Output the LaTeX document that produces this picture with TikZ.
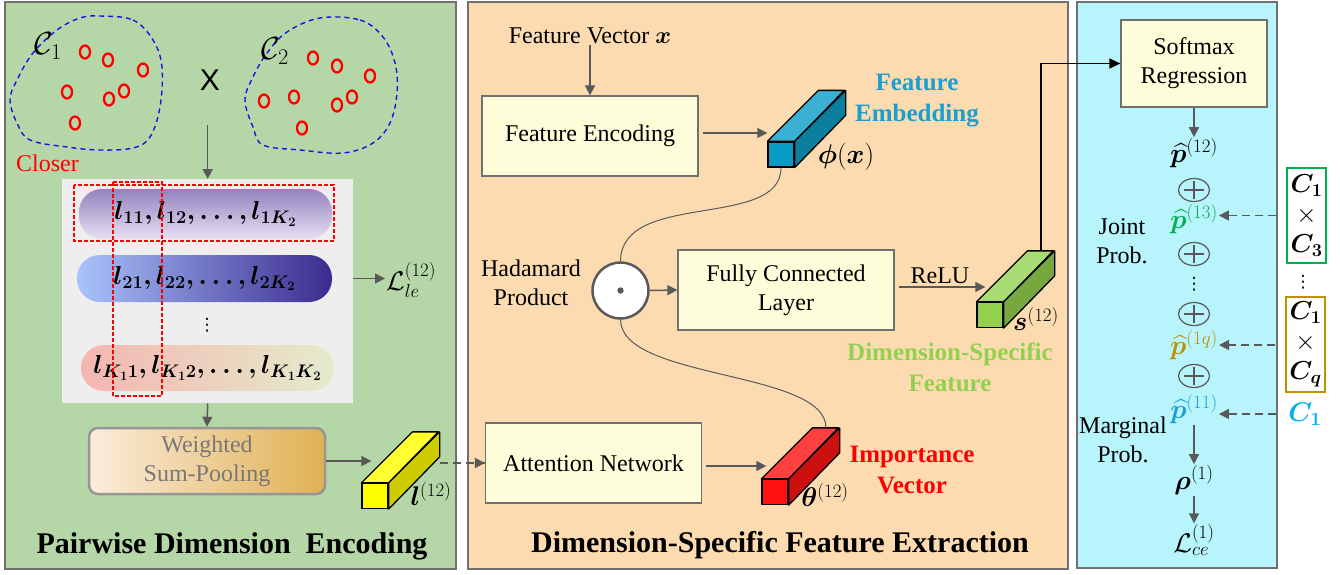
\RequirePackage{fix-cm}
\documentclass[tikz,border=0pt]{standalone}
\usepackage{amsmath}
\usepackage{bm}
\usepackage{fontspec}
\setmainfont{Liberation Serif}
\newfontfamily\sansf{Liberation Sans}
\newfontfamily\dejavu{DejaVu Sans}
\usetikzlibrary{arrows.meta,shapes.geometric,calc}
\definecolor{pg}{RGB}{181,215,168}
\definecolor{pp}{RGB}{253,219,176}
\definecolor{pc}{RGB}{184,244,252}
\definecolor{bx}{RGB}{253,253,217}
\definecolor{ag}{RGB}{89,89,89}
\definecolor{pb}{RGB}{112,112,112}
\definecolor{febl}{RGB}{26,160,208}
\definecolor{dsg}{RGB}{146,208,80}
\definecolor{goldc}{RGB}{191,143,0}
\definecolor{pgreen}{RGB}{0,176,80}
\definecolor{cblue}{RGB}{0,176,240}
\definecolor{blobb}{RGB}{20,20,230}
\definecolor{ltg}{RGB}{238,238,238}
\newcommand{\mycube}[5]{%
  \node[draw=black,line width=1.3pt,fill=#3,minimum width=26pt,minimum height=25pt,inner sep=0pt] (#1) at #2 {};
  \draw[line width=1.3pt,fill=#4,line join=round] (#1.north west) -- ++(51,-51) -- ++(26,0) -- (#1.north east) -- cycle;
  \draw[line width=1.3pt,fill=#5,line join=round] (#1.north east) -- ++(51,-51) -- ++(0,25) -- (#1.south east) -- cycle;
  \path (#1.north) ++(51,-51) coordinate (#1-top);
  \path (#1.east) ++(51,-51) coordinate (#1-back);
}
\begin{document}
\begin{tikzpicture}[x=1pt,y=-1pt,
  every node/.style={font=\fontsize{24}{29}\selectfont, inner sep=1pt, align=center},
  mth/.style={font=\fontsize{27}{30}\selectfont},
  vd/.style={font=\dejavu\fontsize{17}{17}\selectfont, inner sep=0pt},
  box/.style={draw=pb, fill=bx, line width=1.2pt},
  arr/.style={draw=ag, line width=1.5pt, -{Triangle[length=10pt,width=10pt]}},
  darr/.style={arr, dash pattern=on 8pt off 5pt},
  blk/.style={draw=black, line width=1.5pt, -{Triangle[length=11pt,width=10pt]}},
  pill/.style={rounded corners=23pt, minimum width=253pt, minimum height=47pt, font=\fontsize{26}{30}\selectfont},
  boldlbl/.style={font=\fontsize{25}{31}\selectfont\bfseries},
  ttl/.style={font=\fontsize{30}{34}\selectfont\bfseries},
  dot/.style={draw=red, line width=2.3pt},
  plusn/.style={ellipse, draw=ag, line width=1.2pt, minimum width=31pt, minimum height=23pt, inner sep=0pt}
]
\useasboundingbox (0,0) rectangle (1340,574);
% panels
\draw[pb, fill=pg, line width=1.5pt] (5,2) rectangle (456,569);
\draw[pb, fill=pp, line width=1.5pt] (468,2) rectangle (1068,569);
\draw[pb, fill=pc, line width=1.5pt] (1077,2) rectangle (1277,568);

%%%%% LEFT PANEL
\draw[blobb, line width=1.4pt, dash pattern=on 5pt off 4pt] plot[smooth cycle, tension=0.6] coordinates
 {(100,16) (133,20) (153,40) (162,67) (160,107) (150,137) (133,148) (100,150) (67,147) (30,140) (17,123) (10,100) (17,80) (33,53) (57,30) (80,18)};
\draw[blobb, line width=1.4pt, dash pattern=on 5pt off 4pt] plot[smooth cycle, tension=0.6] coordinates
 {(320,18) (360,20) (383,37) (395,63) (397,93) (390,123) (373,143) (343,153) (300,150) (263,145) (253,127) (245,100) (253,77) (267,53) (287,32)};
\foreach \p in {(85,52),(108,60),(143,70),(67,92),(109,99),(124,91),(75,123),
                (313,58),(337,66),(370,76),(264,101),(294,97),(337,105),(352,97),(302,128)}
  \draw[dot] \p ellipse (5pt and 6.5pt);
\node[font=\fontsize{32}{34}\selectfont] (c1) at (48,46) {$\mathcal{C}_1$};
\node[font=\fontsize{32}{34}\selectfont] (c2) at (275,51) {$\mathcal{C}_2$};
\node[font=\sansf\fontsize{30}{30}\selectfont] (X) at (210,80) {X};
\node[red, anchor=west] (closer) at (15,163) {Closer};

\node[fill=ltg, minimum width=291pt, minimum height=224pt, inner sep=0pt, anchor=north west] (grey) at (62,179) {};
\draw[arr, shorten <=33pt] (X.south -| grey.north) -- (grey.north);

\node[pill, top color={rgb,255:red,146;green,130;blue,191}, bottom color={rgb,255:red,232;green,224;blue,242}, minimum height=50pt] (r1) at (205.5,214)
  {$\bm{l_{11}, l_{12}, \ldots, l_{1K_2}}$};
\node[pill, left color={rgb,255:red,169;green,195;blue,251}, right color={rgb,255:red,59;green,43;blue,143}, minimum width=255pt] (r2) at (204.5,278.5)
  {$\bm{l_{21}, l_{22}, \ldots, l_{2K_2}}$};
\node[vd] (vd1) at (207,325) {⋮};
\node[pill, left color={rgb,255:red,244;green,182;blue,177}, right color={rgb,255:red,228;green,235;blue,204}, minimum height=46pt] (r3) at (207.5,368)
  {$\bm{l_{K_1 1}, l_{K_1 2}, \ldots, l_{K_1 K_2}}$};
\draw[red, line width=1.5pt, dash pattern=on 4pt off 2pt] (74,185) rectangle (334,241);
\draw[red, line width=1.5pt, dash pattern=on 4pt off 2pt] (113,182) rectangle (162,396);

\node[mth, anchor=west] (Lle) at (385,280) {$\mathcal{L}_{le}^{(12)}$};
\draw[arr] (r2.east -| grey.east) -- (Lle.west |- r2.east);

\node[draw={rgb,255:red,150;green,150;blue,150}, line width=2.5pt, rounded corners=9pt,
      left color={rgb,255:red,251;green,236;blue,220}, right color={rgb,255:red,224;green,177;blue,82},
      minimum width=236pt, minimum height=66pt, text={rgb,255:red,120;green,120;blue,120}] (wsp) at (207,461) {Weighted\\Sum-Pooling};
\draw[arr] (grey.south) -- (wsp.north);

\mycube{lv}{(375,496)}{{rgb,255:red,255;green,255;blue,0}}{{rgb,255:red,255;green,255;blue,50}}{{rgb,255:red,204;green,204;blue,0}}
\node[mth] (llab) at (431,494) {$\bm{l}^{(12)}$};
\draw[arr] (wsp.east) -- ([xshift=10pt]wsp.east -| lv.west);

\node[ttl] (t1) at (232,546) {Pairwise Dimension\ \ Encoding};

%%%%% MIDDLE PANEL
\node (fv) at (590,36) {Feature Vector $\bm{x}$};
\node[box, minimum width=216pt, minimum height=80pt] (fe) at (590,136) {Feature Encoding};
\draw[arr] (fv) -- (fe);
\mycube{phi}{(781,154.5)}{{rgb,255:red,10;green,155;blue,196}}{{rgb,255:red,58;green,176;blue,211}}{{rgb,255:red,12;green,127;blue,160}}
\node[mth] (philab) at (846,157) {$\bm{\phi}(\bm{x})$};
\draw[arr, shorten <=4pt] ([yshift=3pt]fe.east) -- ([yshift=3pt]fe.east -| phi.west);
\node[boldlbl, text=febl] (femb) at (917,101) {Feature\\Embedding};

\node[circle, draw=ag, line width=2.5pt, fill=white, minimum size=56pt, inner sep=0pt] (had) at (620.5,290.5) {};
\fill[ag] (had) circle (3.2pt);
\node (hadlab) at (531,283) {Hadamard\\Product};
\draw[line width=1pt, ag] (phi.south) .. controls (781,230) and (621,190) .. (had.north);

\node[box, minimum width=216pt, minimum height=80pt] (fc) at (786,290) {Fully Connected\\Layer};
\draw[arr] (had.east) -- (fc.west);
\mycube{sv}{(990,315)}{{rgb,255:red,146;green,208;blue,80}}{{rgb,255:red,169;green,219;blue,116}}{{rgb,255:red,118;green,168;blue,61}}
\draw[arr, shorten <=4pt] ([yshift=3pt]fc.east) -- ([yshift=3pt,xshift=9pt]fc.east -| sv.west) node[midway, above=2pt] (relu) {ReLU};
\node[mth] (slab) at (1036,319) {$\bm{s}^{(12)}$};
\node[boldlbl, text=dsg] (dsf) at (950,367) {Dimension-Specific\\Feature};

\node[box, minimum width=216pt, minimum height=80pt] (att) at (593.5,463) {Attention Network};
\draw[darr, -] (att.west -| lv-back) -- (att.west);
\draw[arr] ([xshift=-8pt]att.west) -- (att.west);
\mycube{th}{(775,492)}{{rgb,255:red,255;green,16;blue,16}}{{rgb,255:red,255;green,64;blue,64}}{{rgb,255:red,204;green,16;blue,16}}
\draw[arr, shorten <=4pt] ([yshift=-3pt]att.east) -- ([yshift=-3pt,xshift=5pt]att.east -| th.west);
\node[mth] (thlab) at (825,495) {$\bm{\theta}^{(12)}$};
\node[boldlbl, text=red] (imp) at (912,470) {Importance\\Vector};
\draw[line width=1pt, ag] (had.south) .. controls (621,380) and (826,370) .. (th-top);

\node[ttl] (t2) at (780,545) {Dimension-Specific Feature Extraction};

%%%%% RIGHT PANEL
\node[box, minimum width=146pt, minimum height=87pt] (soft) at (1194,63.5) {Softmax\\Regression};
\draw[blk] (sv-top) |- (soft.west);
\node[mth] (p12) at (1194,153) {$\widehat{\bm{p}}^{(12)}$};
\draw[arr] (soft.south) -- (p12.north);
\node[plusn] (o1) at (1194,190) {};
\node[mth] (p13) at (1194,219) {\color{pgreen}$\widehat{\bm{p}}^{(13)}$};
\node[plusn] (o2) at (1194,254) {};
\node[vd] (vd2) at (1194,284) {⋮};
\node[plusn] (o3) at (1194,314) {};
\node[mth] (p1q) at (1194,345) {\color{goldc}$\widehat{\bm{p}}^{(1q)}$};
\node[plusn] (o4) at (1194,376) {};
\node[mth] (p11) at (1194,409) {\color{febl}$\widehat{\bm{p}}^{(11)}$};
\foreach \o in {o1,o2,o3,o4} {
  \draw[ag, line width=1.2pt] ([xshift=-10pt]\o.center) -- ([xshift=10pt]\o.center);
  \draw[ag, line width=1.2pt] ([yshift=-9pt]\o.center) -- ([yshift=9pt]\o.center);
}
\node (joint) at (1122,241) {Joint\\Prob.};
\node (marg) at (1123,440) {Marginal\\Prob.};
\node[mth] (rho) at (1194,480) {$\bm{\rho}^{(1)}$};
\node[mth] (Lce) at (1194,540) {$\mathcal{L}_{ce}^{(1)}$};
\draw[arr] (p11.south) -- (rho.north);
\draw[arr] (rho.south) -- (Lce.north);

\node[draw=pgreen, line width=1.5pt, fill=white, minimum width=39pt, minimum height=95pt, font=\fontsize{26}{30}\selectfont, inner sep=0pt] (c13) at (1306.5,215.5) {$\bm{C_1}$\\$\times$\\$\bm{C_3}$};
\node[vd] (vd3) at (1303,282) {⋮};
\node[draw=goldc, line width=1.5pt, fill=white, minimum width=39pt, minimum height=95pt, font=\fontsize{26}{30}\selectfont, inner sep=0pt] (c1q) at (1305.5,344.5) {$\bm{C_1}$\\$\times$\\$\bm{C_q}$};
\node[mth] (c1b) at (1305,414) {\color{cblue}$\bm{C_1}$};
\draw[darr, shorten <=10pt] (c13.west) -- (c13.west -| p13.east);
\draw[darr, shorten <=10pt] (c1q.west |- p1q.east) -- (p1q.east);
\draw[darr, shorten <=9pt] (c1b.west -| c1q.west) -- (c1b.west -| p11.east);
\end{tikzpicture}
\end{document}
